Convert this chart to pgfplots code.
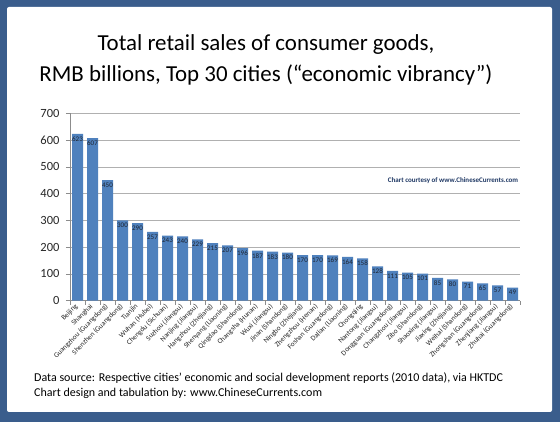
\documentclass[border=0pt]{standalone}
\usepackage{fontspec}
\setmainfont{Carlito}
\usepackage{pgfplots}
\pgfplotsset{compat=1.18}
\definecolor{framebg}{HTML}{3A5D8C}
\definecolor{barblue}{HTML}{4F81BD}
\definecolor{gridgray}{HTML}{B0B0B0}
\definecolor{axisgray}{HTML}{8C8C8C}
\definecolor{navy}{HTML}{1F3864}
\definecolor{labeltext}{HTML}{1E2430}

\begin{document}
\begin{tikzpicture}
\useasboundingbox (0pt,0pt) rectangle (560pt,422pt);
% frame and white panel
\fill[framebg] (0pt,0pt) rectangle (560pt,422pt);
\fill[white, rounded corners=2pt] (7pt,10pt) rectangle (552pt,415pt);

% title
\node[font=\fontsize{22.9}{31}\selectfont, align=center] at (266pt,362.5pt)
  {Total retail sales of consumer goods,\\RMB billions, Top 30 cities (“economic vibrancy”)};

\begin{axis}[
  at={(70pt,121.3pt)}, anchor=south west,
  scale only axis, width=450pt, height=187.4pt,
  xmin=-0.5, xmax=29.5, ymin=0, ymax=700,
  axis lines=left, axis line style={-, axisgray, line width=0.6pt},
  ytick={0,100,...,700},
  ymajorgrids, grid style={gridgray, line width=0.6pt},
  tick align=outside,
  major tick length=4pt, minor tick length=4pt,
  tick style={axisgray, line width=0.6pt},
  xtick={0,...,29},
  major x tick style={draw=none},
  minor xtick={-0.5,0.5,...,29.5},
  /pgf/number format/assume math mode=true,
  yticklabel style={font=\fontsize{12.5}{14}\selectfont, text=black!85, xshift=-3pt},
  xticklabel style={rotate=45, anchor=east, font=\fontsize{7.2}{8}\selectfont, text=black!85, inner sep=1pt},
  xticklabels={Beijing, Shanghai, Guangzhou (Guangdong), Shenzhen (Guangdong), Tianjin,
    Wuhan (Hubei), Chengdu (Sichuan), Suzhou (Jiangsu), Nanjing (Jiangsu), Hangzhou (Zhejiang),
    Shenyang (Liaoning), Qingdao (Shandong), Changsha (Hunan), Wuxi (Jiangsu), Jinan (Shandong),
    Ningbo (Zhejiang), Zhengzhou (Henan), Foshan (Guangdong), Dalian (Liaoning), Chongqing,
    Nantong (Jiangsu), Dongguan (Guangdong), Changzhou (Jiangsu), Zibo (Shandong), Shaoxing (Jiangsu),
    Jiaxing (Zhejiang), Weihai (Shandong), Zhongshan (Guangdong), Zhenjiang (Jiangsu), Zhuhai (Guangdong)},
]
\addplot[ybar, bar width=11pt, fill=barblue, draw=none,
  nodes near coords,
  nodes near coords style={anchor=north, yshift=-1.5pt, font=\fontsize{7}{8}\selectfont, text=labeltext, inner sep=1pt}]
coordinates {
  (0,623) (1,607) (2,450) (3,300) (4,290) (5,257) (6,243) (7,240) (8,229) (9,215)
  (10,207) (11,196) (12,187) (13,183) (14,180) (15,170) (16,170) (17,169) (18,164) (19,158)
  (20,128) (21,111) (22,105) (23,101) (24,85) (25,80) (26,71) (27,65) (28,57) (29,49)
};
\end{axis}

% credit inside the plot area
\node[font=\fontsize{7}{8}\selectfont\bfseries, text=navy] at (453pt,241pt)
  {Chart courtesy of www.ChineseCurrents.com};

% footer
\node[anchor=west, font=\fontsize{12}{14}\selectfont, inner sep=0pt] at (34pt,44pt)
  {Data source: Respective cities’ economic and social development reports (2010 data), via HKTDC};
\node[anchor=west, font=\fontsize{12}{14}\selectfont, inner sep=0pt] at (34pt,29pt)
  {Chart design and tabulation by: www.ChineseCurrents.com};
\end{tikzpicture}
\end{document}
